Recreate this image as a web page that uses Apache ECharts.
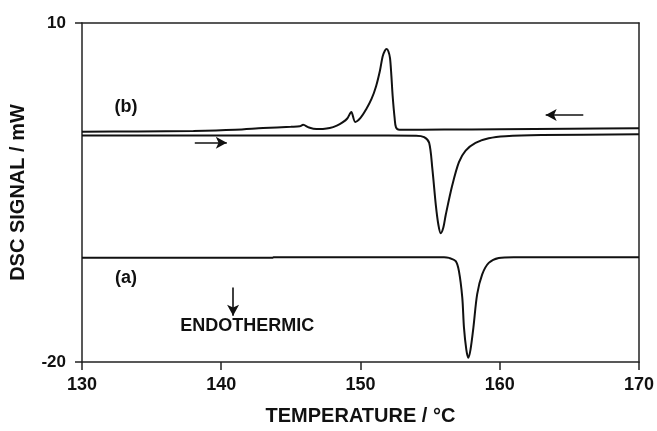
<!DOCTYPE html>
<html><head><meta charset="utf-8">
<script src="https://cdn.jsdelivr.net/npm/echarts@6/dist/echarts.min.js"></script>
<style>html,body{margin:0;padding:0;background:#fff}#c{width:657px;height:431px}</style>
</head><body><div id="c"></div>
<script>
// Curve (b): cooling scan
const coolT = [130, 134, 138, 141, 143, 145, 145.64, 145.88, 146.3, 146.84, 147.3, 147.79, 148.3, 148.71, 149.05, 149.34, 149.62, 150.0, 150.41, 150.8, 151.12, 151.4, 151.59, 151.75, 151.88, 152.0, 152.12, 152.22, 152.31, 152.45, 152.55, 152.79, 156, 160, 165, 170];
const coolV = [0.38, 0.40, 0.45, 0.55, 0.70, 0.82, 0.86, 0.99, 0.75, 0.61, 0.62, 0.70, 0.92, 1.20, 1.55, 2.13, 1.25, 1.60, 2.37, 3.30, 4.41, 5.80, 7.04, 7.55, 7.69, 7.50, 6.90, 5.30, 3.54, 1.60, 0.76, 0.55, 0.57, 0.60, 0.64, 0.68];
// Middle curve: heating scan of cooled sample
const heatT = [130, 140, 150, 154, 154.57, 154.93, 155.16, 155.41, 155.6, 155.76, 155.95, 156.12, 156.59, 157.07, 157.55, 158.26, 159.21, 160.41, 163, 170];
const heatV = [0.05, 0.05, 0.04, 0.03, -0.1, -0.6, -2.89, -6.11, -7.9, -8.6, -8.1, -6.99, -4.36, -2.31, -1.29, -0.6, -0.2, -0.02, 0.08, 0.15];
// Curve (a): first heating scan
const aT = [130, 140, 143.7, 143.75, 150, 156, 156.36, 156.84, 157.07, 157.31, 157.43, 157.6, 157.74, 157.9, 158.11, 158.38, 158.74, 159.21, 159.93, 161, 170];
const aV = [-10.78, -10.78, -10.78, -10.72, -10.72, -10.72, -10.79, -11.08, -11.96, -14.3, -16.93, -18.9, -19.62, -18.9, -16.93, -14.0, -12.25, -11.23, -10.79, -10.72, -10.72];
// Axis ticks
const xTicks = [130, 140, 150, 160, 170];
const yTicks = [-20, 10];
// Annotations
const labelNames = ['(b)', '(a)', 'ENDOTHERMIC'];
const labelT = [133.2, 133.2, 141.9];
const labelV = [2.5, -12.6, -16.9];
const arrowRight = [[138.1, -0.6], [140.4, -0.6]];
const arrowLeft = [[166.0, 1.85], [163.3, 1.85]];
const arrowDown = [[140.85, -13.4], [140.85, -15.9]];

const zip = (a, b) => a.map((v, i) => [v, b[i]]);
const font = 'Arial, "Liberation Sans", sans-serif';
const lineStyle = { color: '#111', width: 2 };
const arrowStyle = { color: '#111', width: 1.6, type: 'solid' };
const axisLineStyle = { color: '#222', width: 1.5 };
const xMin = xTicks[0], xMax = xTicks[xTicks.length - 1];

const chart = echarts.init(document.getElementById('c'), null, { renderer: 'canvas' });
chart.setOption({
  backgroundColor: '#fff',
  animation: false,
  grid: { left: 81, right: 16, top: 23, bottom: 66, show: false },
  xAxis: [{
    type: 'value', position: 'bottom', min: xMin, max: xMax, interval: 10,
    name: 'TEMPERATURE / °C', nameLocation: 'middle', nameGap: 44,
    nameTextStyle: { fontFamily: font, fontWeight: 'bold', fontSize: 20, color: '#111' },
    axisLine: { show: true, onZero: false, lineStyle: axisLineStyle },
    axisTick: { show: true, length: 8, inside: false, interval: 0, lineStyle: axisLineStyle },
    axisLabel: { fontFamily: font, fontWeight: 'bold', fontSize: 18, color: '#111', margin: 14 },
    splitLine: { show: false }
  }, {
    type: 'value', position: 'top', min: xMin, max: xMax, interval: 10,
    axisLine: { show: true, onZero: false, lineStyle: axisLineStyle },
    axisTick: { show: false }, axisLabel: { show: false }, splitLine: { show: false }
  }],
  yAxis: [{
    type: 'value', position: 'left', min: -20, max: 10, interval: 10,
    name: 'DSC SIGNAL / mW', nameLocation: 'middle', nameGap: 54, nameRotate: 90,
    nameTextStyle: { fontFamily: font, fontWeight: 'bold', fontSize: 20, color: '#111' },
    axisLine: { show: true, onZero: false, lineStyle: axisLineStyle },
    axisTick: { show: true, length: 7, inside: false, customValues: yTicks, lineStyle: axisLineStyle },
    axisLabel: { fontFamily: font, fontWeight: 'bold', fontSize: 17, color: '#111', margin: 16, customValues: yTicks },
    splitLine: { show: false }
  }, {
    type: 'value', position: 'right', min: -20, max: 10, interval: 10,
    axisLine: { show: true, onZero: false, lineStyle: axisLineStyle },
    axisTick: { show: false }, axisLabel: { show: false }, splitLine: { show: false }
  }],
  series: [
    { type: 'line', data: zip(coolT, coolV), showSymbol: false, smooth: 0.3, lineStyle: lineStyle, z: 3,
      markLine: { silent: true, symbol: ['none', 'arrow'], symbolSize: [9, 11], label: { show: false }, lineStyle: arrowStyle,
        data: [
          [{ coord: arrowRight[0] }, { coord: arrowRight[1] }],
          [{ coord: arrowLeft[0] }, { coord: arrowLeft[1] }],
          [{ coord: arrowDown[0] }, { coord: arrowDown[1] }]
        ] } },
    { type: 'line', data: zip(heatT, heatV), showSymbol: false, smooth: 0.3, lineStyle: lineStyle, z: 3 },
    { type: 'line', data: zip(aT, aV), showSymbol: false, smooth: 0.3, lineStyle: lineStyle, z: 3 },
    { type: 'scatter', symbolSize: 1, silent: true, itemStyle: { color: 'rgba(0,0,0,0)' },
      data: labelNames.map((n, i) => ({ value: [labelT[i], labelV[i]], name: n })),
      label: { show: true, position: [0, 0], align: 'center', verticalAlign: 'middle', formatter: p => p.name,
        fontFamily: font, fontWeight: 'bold', fontSize: 18, color: '#111', opacity: 1 } }
  ]
});
</script></body></html>
